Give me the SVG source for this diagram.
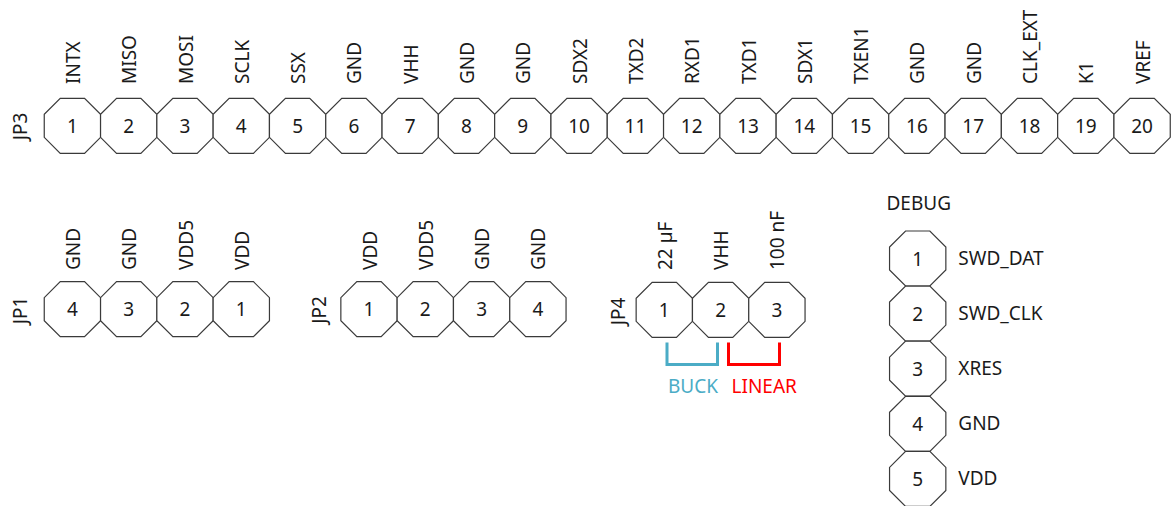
<svg xmlns="http://www.w3.org/2000/svg" xmlns:xlink="http://www.w3.org/1999/xlink" width="1171" height="506" viewBox="0 0 1171 506">
  <style>
    .pad { fill: #ffffff; stroke: #3a3a3a; stroke-width: 1.2; }
    text { font-family: "Noto Sans", "Open Sans", "DejaVu Sans", sans-serif; font-size: 19px; fill: #1a1a1a; }
    .num { text-anchor: middle; }
    .ref { text-anchor: middle; }
    .buck { fill: #4bacc6; }
    .linear { fill: #ff0000; }
    .jmp { fill: none; stroke-width: 3; stroke-linejoin: miter; }
  </style>
  <defs>
    <!-- octagonal header pad, centred on the origin -->
    <polygon id="oct" class="pad" points="-12.15,-27.5 12.15,-27.5 28.15,-11.5 28.15,11.5 12.15,27.5 -12.15,27.5 -28.15,11.5 -28.15,-11.5"/>
  </defs>
  <rect width="1171" height="506" fill="#ffffff"/>

  <!-- JP3: 20-pin header -->
  <g id="JP3">
    <text class="ref" transform="translate(27,126.5) rotate(-90)">JP3</text>
    <g id="JP3-1"><use xlink:href="#oct" x="72.4" y="125.8"/><text class="num" x="72.4" y="132.8">1</text><text transform="translate(79.9,84) rotate(-90)">INTX</text></g>
    <g id="JP3-2"><use xlink:href="#oct" x="128.7" y="125.8"/><text class="num" x="128.7" y="132.8">2</text><text transform="translate(136.2,84) rotate(-90)">MISO</text></g>
    <g id="JP3-3"><use xlink:href="#oct" x="185.0" y="125.8"/><text class="num" x="185.0" y="132.8">3</text><text transform="translate(192.5,84) rotate(-90)">MOSI</text></g>
    <g id="JP3-4"><use xlink:href="#oct" x="241.3" y="125.8"/><text class="num" x="241.3" y="132.8">4</text><text transform="translate(248.8,84) rotate(-90)">SCLK</text></g>
    <g id="JP3-5"><use xlink:href="#oct" x="297.6" y="125.8"/><text class="num" x="297.6" y="132.8">5</text><text transform="translate(305.1,84) rotate(-90)">SSX</text></g>
    <g id="JP3-6"><use xlink:href="#oct" x="353.9" y="125.8"/><text class="num" x="353.9" y="132.8">6</text><text transform="translate(361.4,84) rotate(-90)">GND</text></g>
    <g id="JP3-7"><use xlink:href="#oct" x="410.2" y="125.8"/><text class="num" x="410.2" y="132.8">7</text><text transform="translate(417.7,84) rotate(-90)">VHH</text></g>
    <g id="JP3-8"><use xlink:href="#oct" x="466.5" y="125.8"/><text class="num" x="466.5" y="132.8">8</text><text transform="translate(474.0,84) rotate(-90)">GND</text></g>
    <g id="JP3-9"><use xlink:href="#oct" x="522.8" y="125.8"/><text class="num" x="522.8" y="132.8">9</text><text transform="translate(530.3,84) rotate(-90)">GND</text></g>
    <g id="JP3-10"><use xlink:href="#oct" x="579.1" y="125.8"/><text class="num" x="579.1" y="132.8">10</text><text transform="translate(586.6,84) rotate(-90)">SDX2</text></g>
    <g id="JP3-11"><use xlink:href="#oct" x="635.4" y="125.8"/><text class="num" x="635.4" y="132.8">11</text><text transform="translate(642.9,84) rotate(-90)">TXD2</text></g>
    <g id="JP3-12"><use xlink:href="#oct" x="691.7" y="125.8"/><text class="num" x="691.7" y="132.8">12</text><text transform="translate(699.2,84) rotate(-90)">RXD1</text></g>
    <g id="JP3-13"><use xlink:href="#oct" x="748.0" y="125.8"/><text class="num" x="748.0" y="132.8">13</text><text transform="translate(755.5,84) rotate(-90)">TXD1</text></g>
    <g id="JP3-14"><use xlink:href="#oct" x="804.3" y="125.8"/><text class="num" x="804.3" y="132.8">14</text><text transform="translate(811.8,84) rotate(-90)">SDX1</text></g>
    <g id="JP3-15"><use xlink:href="#oct" x="860.6" y="125.8"/><text class="num" x="860.6" y="132.8">15</text><text transform="translate(868.1,84) rotate(-90)">TXEN1</text></g>
    <g id="JP3-16"><use xlink:href="#oct" x="916.9" y="125.8"/><text class="num" x="916.9" y="132.8">16</text><text transform="translate(924.4,84) rotate(-90)">GND</text></g>
    <g id="JP3-17"><use xlink:href="#oct" x="973.2" y="125.8"/><text class="num" x="973.2" y="132.8">17</text><text transform="translate(980.7,84) rotate(-90)">GND</text></g>
    <g id="JP3-18"><use xlink:href="#oct" x="1029.5" y="125.8"/><text class="num" x="1029.5" y="132.8">18</text><text transform="translate(1037.0,84) rotate(-90)">CLK_EXT</text></g>
    <g id="JP3-19"><use xlink:href="#oct" x="1085.8" y="125.8"/><text class="num" x="1085.8" y="132.8">19</text><text transform="translate(1093.3,84) rotate(-90)">K1</text></g>
    <g id="JP3-20"><use xlink:href="#oct" x="1142.1" y="125.8"/><text class="num" x="1142.1" y="132.8">20</text><text transform="translate(1149.6,84) rotate(-90)">VREF</text></g>
  </g>

  <!-- JP1: 4-pin power header, numbered right to left -->
  <g id="JP1">
    <text class="ref" transform="translate(27,310.5) rotate(-90)">JP1</text>
    <g id="JP1-4"><use xlink:href="#oct" x="72.4" y="309.2"/><text class="num" x="72.4" y="316.2">4</text><text transform="translate(79.9,270) rotate(-90)">GND</text></g>
    <g id="JP1-3"><use xlink:href="#oct" x="128.7" y="309.2"/><text class="num" x="128.7" y="316.2">3</text><text transform="translate(136.2,270) rotate(-90)">GND</text></g>
    <g id="JP1-2"><use xlink:href="#oct" x="185.0" y="309.2"/><text class="num" x="185.0" y="316.2">2</text><text transform="translate(192.5,270) rotate(-90)">VDD5</text></g>
    <g id="JP1-1"><use xlink:href="#oct" x="241.3" y="309.2"/><text class="num" x="241.3" y="316.2">1</text><text transform="translate(248.8,270) rotate(-90)">VDD</text></g>
  </g>

  <!-- JP2: 4-pin power header -->
  <g id="JP2">
    <text class="ref" transform="translate(326,310) rotate(-90)">JP2</text>
    <g id="JP2-1"><use xlink:href="#oct" x="369.0" y="309.2"/><text class="num" x="369.0" y="316.2">1</text><text transform="translate(376.5,270) rotate(-90)">VDD</text></g>
    <g id="JP2-2"><use xlink:href="#oct" x="425.3" y="309.2"/><text class="num" x="425.3" y="316.2">2</text><text transform="translate(432.8,270) rotate(-90)">VDD5</text></g>
    <g id="JP2-3"><use xlink:href="#oct" x="481.6" y="309.2"/><text class="num" x="481.6" y="316.2">3</text><text transform="translate(489.1,270) rotate(-90)">GND</text></g>
    <g id="JP2-4"><use xlink:href="#oct" x="537.9" y="309.2"/><text class="num" x="537.9" y="316.2">4</text><text transform="translate(545.4,270) rotate(-90)">GND</text></g>
  </g>

  <!-- JP4: regulator select jumper -->
  <g id="JP4">
    <text class="ref" transform="translate(625,311.5) rotate(-90)">JP4</text>
    <g id="JP4-1"><use xlink:href="#oct" x="664.3" y="309.8"/><text class="num" x="664.3" y="316.8">1</text><text transform="translate(671.8,270) rotate(-90)">22 µF</text></g>
    <g id="JP4-2"><use xlink:href="#oct" x="720.6" y="309.8"/><text class="num" x="720.6" y="316.8">2</text><text transform="translate(728.1,270) rotate(-90)">VHH</text></g>
    <g id="JP4-3"><use xlink:href="#oct" x="776.9" y="309.8"/><text class="num" x="776.9" y="316.8">3</text><text transform="translate(784.4,270) rotate(-90)">100 nF</text></g>
  </g>

  <!-- jumper positions under JP4 -->
  <g id="connectors">
    <polyline class="jmp" stroke="#4bacc6" points="667,342.5 667,364.5 717.5,364.5 717.5,342.5"/>
    <polyline class="jmp" stroke="#ff0000" points="728.5,342.5 728.5,364.5 779.5,364.5 779.5,342.5"/>
    <text class="buck" x="668" y="393.3">BUCK</text>
    <text class="linear" x="731.5" y="393.3">LINEAR</text>
  </g>

  <!-- DEBUG: vertical 5-pin SWD header -->
  <g id="DEBUG">
    <text x="886.5" y="210">DEBUG</text>
    <g id="DEBUG-1"><use xlink:href="#oct" x="917.7" y="258.5"/><text class="num" x="917.7" y="265.5">1</text><text x="958.3" y="264.5">SWD_DAT</text></g>
    <g id="DEBUG-2"><use xlink:href="#oct" x="917.7" y="313.6"/><text class="num" x="917.7" y="320.6">2</text><text x="958.3" y="319.6">SWD_CLK</text></g>
    <g id="DEBUG-3"><use xlink:href="#oct" x="917.7" y="368.7"/><text class="num" x="917.7" y="375.7">3</text><text x="958.3" y="374.7">XRES</text></g>
    <g id="DEBUG-4"><use xlink:href="#oct" x="917.7" y="423.8"/><text class="num" x="917.7" y="430.8">4</text><text x="958.3" y="429.8">GND</text></g>
    <g id="DEBUG-5"><use xlink:href="#oct" x="917.7" y="478.9"/><text class="num" x="917.7" y="485.9">5</text><text x="958.3" y="484.9">VDD</text></g>
  </g>
</svg>
